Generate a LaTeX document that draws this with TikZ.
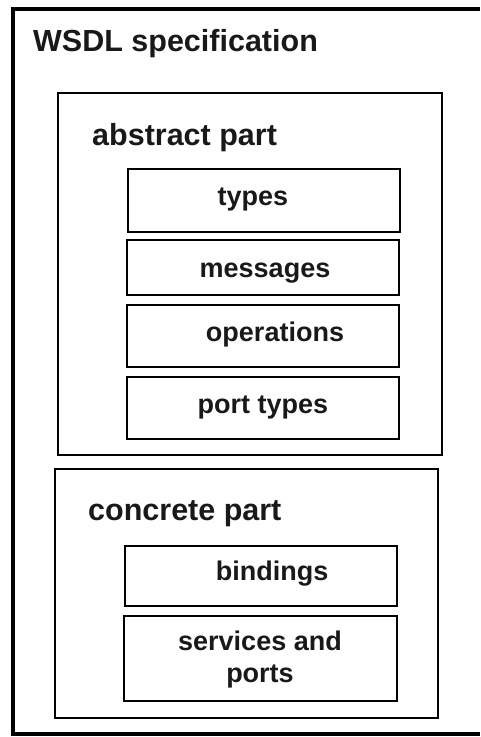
\documentclass[tikz,border=0pt]{standalone}
\usepackage{fontspec}
\setmainfont{Liberation Sans}
\begin{document}
\begin{tikzpicture}[x=1pt,y=-1pt,
  box/.style={draw=black, line width=2.6pt, rectangle, inner sep=0pt, fill=white},
  outerline/.style={draw=black, line width=3.2pt},
  title/.style={font=\fontsize{30.5}{33}\selectfont\bfseries, anchor=base west, inner sep=0pt, text=black!90},
  item/.style={font=\fontsize{27}{32}\selectfont\bfseries, inner sep=0pt, anchor=base, text=black!90}]
\fill[white] (0,0) rectangle (480,737);
\useasboundingbox (0,0) rectangle (480,737);
% outer WSDL box (its right edge lies beyond the picture)
\coordinate (otr) at (480,9);
\coordinate (otl) at (13,9);
\coordinate (obl) at (13,734);
\coordinate (obr) at (480,734);
\draw[outerline] (otr) -- (otl) -- (obl) -- (obr);
\node[title] (wsdlt) at (33,51) {WSDL specification};
% abstract part
\node[box, minimum width=384pt, minimum height=362pt] (abs) at (250,274) {};
\node[title] (abst) at (92,145) {abstract part};
\node[box, minimum width=272pt, minimum height=63pt] (types) at (264,200.5) {};
\node[item] (typest) at (253,205) {types};
\node[box, minimum width=272pt, minimum height=55pt] (msg) at (263,267.5) {};
\node[item] (msgt) at (265,277.5) {messages};
\node[box, minimum width=272pt, minimum height=62pt] (ops) at (263,336) {};
\node[item] (opst) at (275,341) {operations};
\node[box, minimum width=272pt, minimum height=62pt] (pt) at (263,408) {};
\node[item] (ptt) at (263,413.5) {port types};
% concrete part
\node[box, minimum width=383pt, minimum height=249pt] (con) at (246.5,593.5) {};
\node[title] (cont) at (88,520) {concrete part};
\node[box, minimum width=272pt, minimum height=60pt] (bind) at (261,576) {};
\node[item] (bindt) at (272,580) {bindings};
\node[box, minimum width=273pt, minimum height=85pt] (svc) at (260.5,658.5) {};
\node[item] (svct1) at (260,650) {services and};
\node[item] (svct2) at (260,682.5) {ports};
\end{tikzpicture}
\end{document}
